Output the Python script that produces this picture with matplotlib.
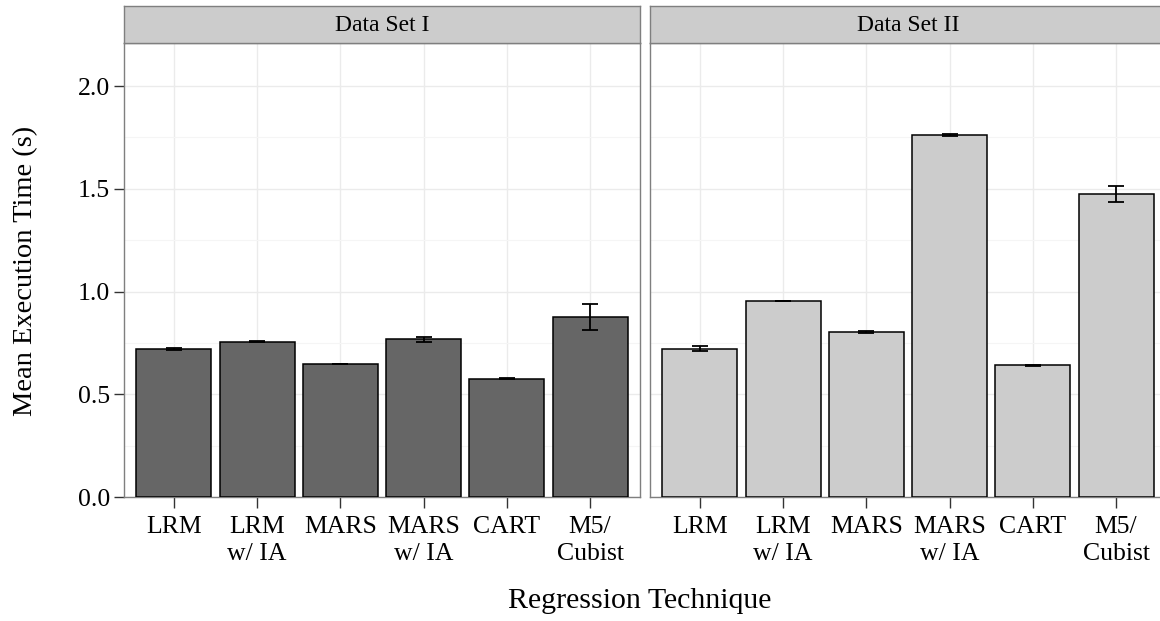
import matplotlib
matplotlib.use("Agg")
import matplotlib.pyplot as plt
from matplotlib.ticker import MultipleLocator
import numpy as np

plt.rcParams['font.family'] = ['Liberation Serif', 'DejaVu Serif']

categories = ["LRM", "LRM\nw/ IA", "MARS", "MARS\nw/ IA", "CART", "M5/\nCubist"]
panels = ["Data Set I", "Data Set II"]
means_1 = [0.720, 0.756, 0.647, 0.767, 0.576, 0.876]
errs_1 = [0.003, 0.002, 0.002, 0.012, 0.003, 0.062]
means_2 = [0.722, 0.954, 0.804, 1.762, 0.642, 1.476]
errs_2 = [0.012, 0.002, 0.004, 0.003, 0.002, 0.039]
fills = ["#666666", "#CCCCCC"]

W, H = 1160, 621
fig = plt.figure(figsize=(11.6, 6.21), dpi=100)

def fx(px):
    return px / W

def fy(py):
    return (H - py) / H

panel_top, panel_bot = 43, 497
strip_top = 6
lefts = [124, 650]
pw = 516

axes = []
for i, (name, means, errs) in enumerate(zip(panels, [means_1, means_2], [errs_1, errs_2])):
    l = lefts[i]
    ax = fig.add_axes([fx(l), fy(panel_bot), pw / W, (panel_bot - panel_top) / H])
    x = np.arange(1, len(categories) + 1)
    ax.bar(x, means, width=0.9, color=fills[i], edgecolor="black", linewidth=1.1, zorder=3)
    ax.errorbar(x, means, yerr=errs, fmt="none", ecolor="black", elinewidth=1.3,
                capsize=6, capthick=1.3, zorder=4)
    ax.set_xlim(0.4, 6.6)
    ax.set_ylim(0, 2.21)
    ax.set_xticks(x)
    ax.set_xticklabels(categories, fontsize=18.5, linespacing=1.27)
    ax.yaxis.set_major_locator(MultipleLocator(0.5))
    ax.yaxis.set_minor_locator(MultipleLocator(0.25))
    ax.grid(True, which="major", color="#EBEBEB", linewidth=1.0, zorder=0)
    ax.grid(True, which="minor", axis="y", color="#F5F5F5", linewidth=0.8, zorder=0)
    ax.set_axisbelow(True)
    for s in ax.spines.values():
        s.set_color("#7F7F7F")
        s.set_linewidth(1.0)
    ax.tick_params(axis="x", length=8, width=1.0, color="#333333", pad=6)
    ax.tick_params(axis="y", which="major", length=7, width=1.0, color="#333333", pad=3,
                   labelsize=18.5)
    ax.tick_params(axis="y", which="minor", length=0)
    if i == 0:
        ax.yaxis.set_major_formatter(matplotlib.ticker.FormatStrFormatter("%.1f"))
    else:
        ax.tick_params(axis="y", which="major", length=0, labelleft=False)
    # strip
    sax = fig.add_axes([fx(l), fy(panel_top), pw / W, (panel_top - strip_top) / H])
    sax.set_facecolor("#CCCCCC")
    sax.set_xticks([])
    sax.set_yticks([])
    for s in sax.spines.values():
        s.set_color("#7F7F7F")
        s.set_linewidth(1.0)
    sax.text(0.5, 0.47, name, transform=sax.transAxes, ha="center", va="center", fontsize=17)
    axes.append(ax)

fig.text(fx(640), fy(601), "Regression Technique", ha="center", va="center", fontsize=21.5)
fig.text(fx(26), fy(271), "Mean Execution Time (s)", ha="center", va="center",
         rotation=90, fontsize=20.5)

fig.savefig("out.png", dpi=100)
